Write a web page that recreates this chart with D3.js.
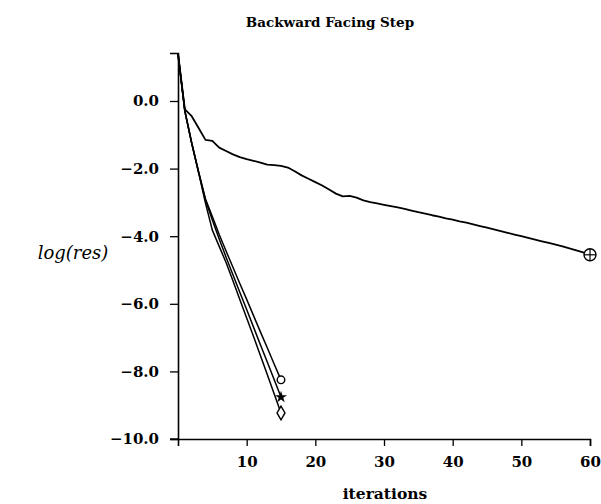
<!DOCTYPE html>
<html><head><meta charset="utf-8">
<script src="https://cdn.jsdelivr.net/npm/d3@7"></script>
<style>body{margin:0;background:#fff}svg{display:block}</style>
</head><body>
<script>
const title = "Backward Facing Step";
const xLabel = "iterations";
const yLabel = "log(res)";
const xTicks = [10, 20, 30, 40, 50, 60];
const yTicks = [0, -2, -4, -6, -8, -10];
const itersLong = d3.range(0, 61);
const itersShort = d3.range(0, 16);
const seriesPlus = [1.40,-0.25,-0.45,-0.80,-1.15,-1.18,-1.38,-1.48,-1.58,-1.66,-1.72,-1.77,-1.82,-1.88,-1.90,-1.92,-1.97,-2.08,-2.20,-2.30,-2.40,-2.50,-2.62,-2.74,-2.82,-2.81,-2.86,-2.94,-2.99,-3.03,-3.07,-3.11,-3.15,-3.19,-3.24,-3.29,-3.33,-3.38,-3.42,-3.47,-3.51,-3.56,-3.60,-3.65,-3.70,-3.75,-3.80,-3.85,-3.90,-3.95,-4.00,-4.05,-4.10,-4.15,-4.20,-4.25,-4.30,-4.36,-4.42,-4.48,-4.55];
const seriesCircle = [1.40,-0.30,-1.25,-2.10,-2.90,-3.42,-3.95,-4.44,-4.92,-5.40,-5.87,-6.35,-6.83,-7.30,-7.78,-8.25];
const seriesStar = [1.40,-0.30,-1.25,-2.10,-2.93,-3.52,-4.08,-4.62,-5.14,-5.66,-6.17,-6.69,-7.21,-7.72,-8.24,-8.76];
const seriesDiamond = [1.40,-0.30,-1.25,-2.12,-3.02,-3.82,-4.30,-4.78,-5.32,-5.87,-6.42,-6.97,-7.53,-8.09,-8.66,-9.23];

const W = 601, H = 504;
const svg = d3.select("body").append("svg").attr("width", W).attr("height", H);
const x = d3.scaleLinear().domain([0, 60]).range([178, 590]);
const y = d3.scaleLinear().domain([-10, 1.42]).range([439, 53]);
const font = "'DejaVu Serif', serif";

svg.append("text").attr("x", 330).attr("y", 27).attr("text-anchor", "middle")
  .attr("font-family", font).attr("font-weight", "bold").attr("font-size", 13.5).text(title);

const gy = svg.append("g").attr("transform", `translate(${x(0)},0)`)
  .call(d3.axisLeft(y).tickValues(yTicks).tickFormat(d3.format(".1f")).tickSizeOuter(0).tickSize(8).tickPadding(11));
const gx = svg.append("g").attr("transform", `translate(0,${y(-10)})`)
  .call(d3.axisBottom(x).tickValues(xTicks).tickFormat(d3.format("d")).tickSizeOuter(0).tickSize(7).tickPadding(10));
[gx, gy].forEach(g => {
  g.selectAll("path.domain").attr("stroke", "#000").attr("stroke-width", 1.6);
  g.selectAll(".tick line").attr("stroke", "#000").attr("stroke-width", 1.3);
  g.selectAll(".tick text").attr("font-family", font).attr("font-weight", "bold").attr("font-size", 15).attr("fill", "#000");
});
svg.append("line").attr("x1", x(0) - 8).attr("x2", x(0)).attr("y1", y(-10)).attr("y2", y(-10)).attr("stroke", "#000").attr("stroke-width", 1.3);

svg.append("text").attr("x", 385).attr("y", 499).attr("text-anchor", "middle")
  .attr("font-family", font).attr("font-weight", "bold").attr("font-size", 15.5).text(xLabel);
svg.append("text").attr("x", 73).attr("y", 259).attr("text-anchor", "middle")
  .attr("font-family", font).attr("font-style", "italic").attr("font-size", 18).text(yLabel);

const line = d3.line().x(d => x(d[0])).y(d => y(d[1]));
function drawSeries(iters, vals, sw) {
  svg.append("path").datum(iters.map((t, i) => [t, vals[i]]))
    .attr("d", line).attr("fill", "none").attr("stroke", "#000").attr("stroke-width", sw)
    .attr("stroke-linejoin", "round");
}
drawSeries(itersLong, seriesPlus, 1.8);
drawSeries(itersShort, seriesCircle, 1.5);
drawSeries(itersShort, seriesStar, 1.5);
drawSeries(itersShort, seriesDiamond, 1.5);

const last = 15;
svg.append("circle").attr("cx", x(last)).attr("cy", y(seriesCircle[last])).attr("r", 3.8)
  .attr("fill", "#fff").attr("stroke", "#000").attr("stroke-width", 1.4);
svg.append("path").attr("d", d3.symbol(d3.symbolStar, 45)())
  .attr("transform", `translate(${x(last)},${y(seriesStar[last])})`).attr("fill", "#000");
svg.append("path").attr("d", d3.symbol(d3.symbolDiamond, 55)())
  .attr("transform", `translate(${x(last)},${y(seriesDiamond[last])})`)
  .attr("fill", "#fff").attr("stroke", "#000").attr("stroke-width", 1.4);
const px = x(60), py = y(seriesPlus[60]);
svg.append("circle").attr("cx", px).attr("cy", py).attr("r", 6)
  .attr("fill", "#fff").attr("stroke", "#000").attr("stroke-width", 1.4);
svg.append("line").attr("x1", px - 6).attr("x2", px + 6).attr("y1", py).attr("y2", py).attr("stroke", "#000").attr("stroke-width", 1.2);
svg.append("line").attr("x1", px).attr("x2", px).attr("y1", py - 6).attr("y2", py + 6).attr("stroke", "#000").attr("stroke-width", 1.2);
</script>
</body></html>
